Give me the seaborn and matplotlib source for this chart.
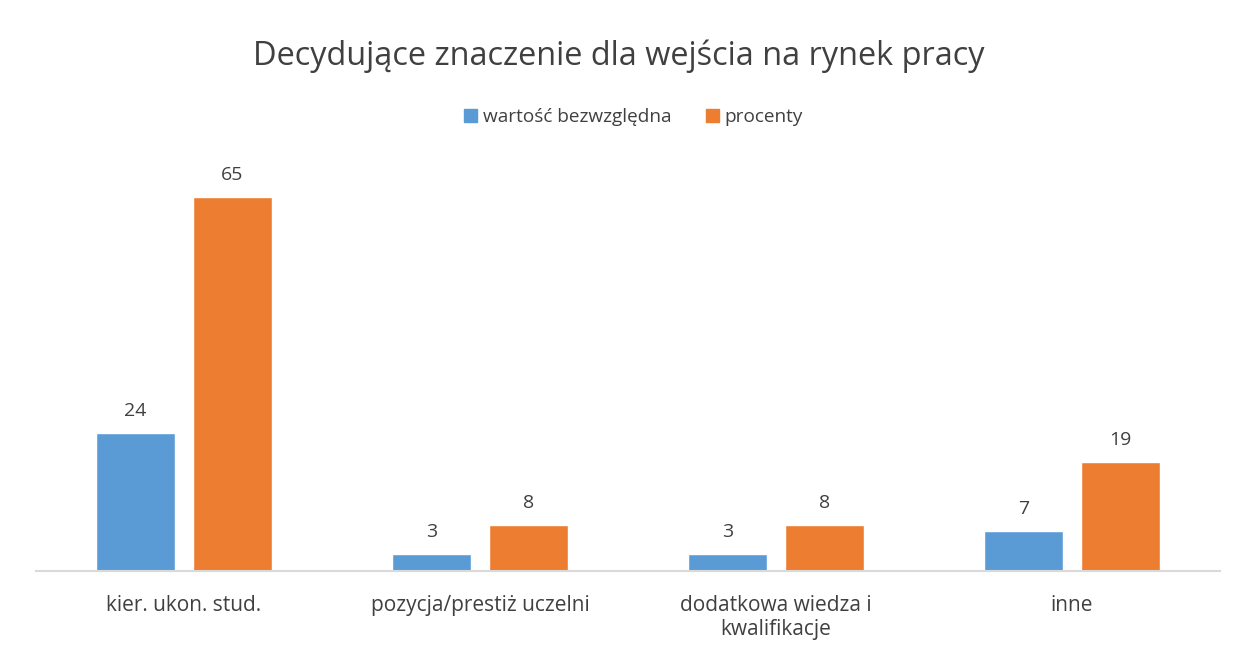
import pandas as pd
import seaborn as sns
import matplotlib.pyplot as plt

sns.set_theme(style="white")
plt.rcParams['font.family'] = ['Open Sans', 'DejaVu Sans']

categories = ["kier. ukon. stud.", "pozycja/prestiż uczelni",
              "dodatkowa wiedza i\nkwalifikacje", "inne"]
absolute = [24, 3, 3, 7]
percent = [65, 8, 8, 19]
series = ["wartość bezwzględna", "procenty"]

df = pd.DataFrame({
    "kategoria": categories * 2,
    "wartosc": absolute + percent,
    "seria": [series[0]] * 4 + [series[1]] * 4,
})

textColor = "#404040"
colors = ["#5B9BD5", "#ED7D31"]

fig = plt.figure(figsize=(12.37, 6.55), dpi=100)
ax = fig.add_axes([36 / 1237, 84 / 655, 1184 / 1237, 403 / 655])

sns.barplot(data=df, x="kategoria", y="wartosc", hue="seria",
            palette=colors, saturation=1, width=0.655, gap=0.185,
            ax=ax, legend=False)

for cont in ax.containers:
    ax.bar_label(cont, padding=9, fontsize=14, color=textColor)

ax.set_ylim(0, 70)
ax.set_xlim(-0.5, 3.5)
ax.set_yticks([])
ax.set_xlabel("")
ax.set_ylabel("")
for s in ["top", "left", "right"]:
    ax.spines[s].set_visible(False)
ax.spines["bottom"].set_color("#D9D9D9")
ax.spines["bottom"].set_linewidth(1.5)
ax.tick_params(axis="x", length=0, pad=17, labelsize=15, labelcolor=textColor)

fig.suptitle("Decydujące znaczenie dla wejścia na rynek pracy",
             y=0.94, fontsize=23.4, color=textColor)

handles = [plt.Rectangle((0, 0), 1, 1, color=c) for c in colors]
fig.legend(handles, series, loc="center", bbox_to_anchor=(0.512, 0.821), ncol=2,
           frameon=False, fontsize=13.7, labelcolor=textColor,
           handlelength=0.7, handleheight=0.7, handletextpad=0.3, columnspacing=1.8)

fig.savefig("out.png", dpi=100)
